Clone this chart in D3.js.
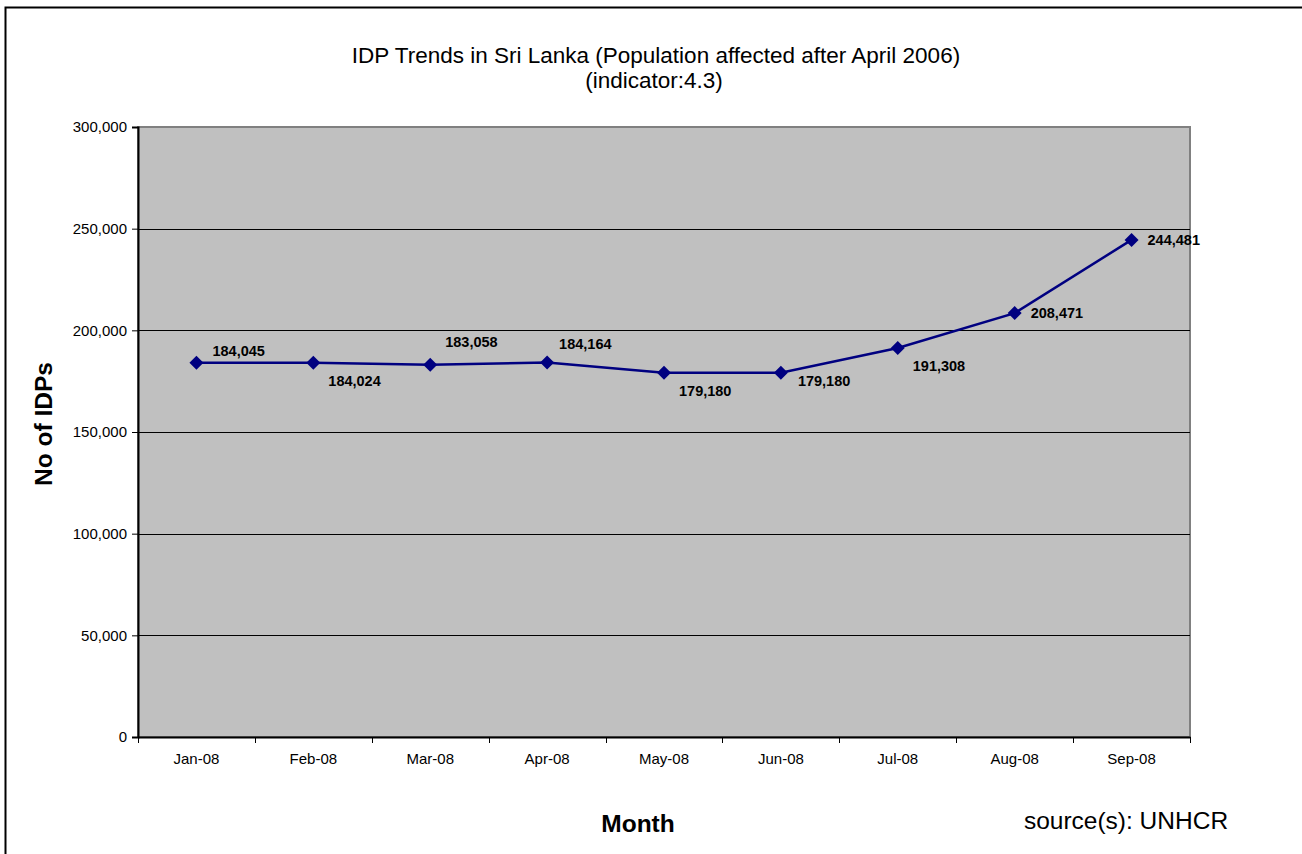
<!DOCTYPE html>
<html>
<head>
<meta charset="utf-8">
<script src="https://cdn.jsdelivr.net/npm/d3@7"></script>
<style>
  body { margin: 0; background: #fff; }
  text { font-family: "Liberation Sans", Arial, sans-serif; }
</style>
</head>
<body>
<svg id="chart" width="1302" height="854"></svg>
<script>
// data
const months = ["Jan-08", "Feb-08", "Mar-08", "Apr-08", "May-08", "Jun-08", "Jul-08", "Aug-08", "Sep-08"];
const idps = [184045, 184024, 183058, 184164, 179180, 179180, 191308, 208471, 244481];
const yTicks = [0, 50000, 100000, 150000, 200000, 250000, 300000];
// label placement: which side of the marker each value sits
const labelPos = ["above", "below", "aboveHigh", "aboveMid", "below", "belowRight", "below", "right", "right"];

const svg = d3.select('#chart');
const fontFam = '"Liberation Sans", Arial, sans-serif';

// outer chart border (runs off the right and bottom)
svg.append('rect')
  .attr('x', 5.5).attr('y', 7.5)
  .attr('width', 1310).attr('height', 870)
  .attr('fill', 'none')
  .attr('stroke', '#000')
  .attr('stroke-width', 2);

const plot = { left: 138, top: 127, right: 1190, bottom: 737 };

var x = d3.scaleBand()
  .domain(months)
  .range([plot.left, plot.right]);

var y = d3.scaleLinear()
  .domain([0, 300000])
  .range([plot.bottom, plot.top]);

// plot background
svg.append('rect')
  .attr('x', plot.left).attr('y', plot.top)
  .attr('width', plot.right - plot.left)
  .attr('height', plot.bottom - plot.top)
  .attr('fill', '#c0c0c0')
  .attr('stroke', '#808080')
  .attr('stroke-width', 2);

// gridlines
svg.selectAll('.grid')
  .data(yTicks.filter(d => d > 0 && d < 300000))
  .enter().append('line')
  .attr('x1', plot.left).attr('x2', plot.right)
  .attr('y1', d => Math.round(y(d)) + 0.5)
  .attr('y2', d => Math.round(y(d)) + 0.5)
  .attr('stroke', '#000')
  .attr('stroke-width', 1);

// y axis
const yAxis = svg.append('g')
  .attr('transform', `translate(${plot.left},0)`)
  .call(d3.axisLeft(y).tickValues(yTicks).tickFormat(d3.format(',')).tickSize(6).tickPadding(5));
yAxis.select('.domain').attr('stroke', '#000').attr('stroke-width', 2);
yAxis.selectAll('.tick line').attr('stroke', '#000');
yAxis.selectAll('text').attr('font-size', 15).attr('fill', '#000').attr('font-family', fontFam);

// x axis, ticks sit between categories
const xAxis = svg.append('g')
  .attr('transform', `translate(0,${plot.bottom})`)
  .call(d3.axisBottom(x).tickSize(0).tickPadding(16));
xAxis.select('.domain').attr('stroke', '#000').attr('stroke-width', 2);
xAxis.selectAll('text').attr('font-size', 15).attr('fill', '#000').attr('font-family', fontFam);

svg.append('g').selectAll('line')
  .data(d3.range(months.length + 1))
  .enter().append('line')
  .attr('x1', i => Math.round(plot.left + i * x.step()) + 0.5)
  .attr('x2', i => Math.round(plot.left + i * x.step()) + 0.5)
  .attr('y1', plot.bottom)
  .attr('y2', plot.bottom + 6)
  .attr('stroke', '#000');

// series line
const cx = d => x(d.m) + x.bandwidth() / 2;
const pts = months.map((m, i) => ({ m: m, v: idps[i], pos: labelPos[i] }));

svg.append('path')
  .datum(pts)
  .attr('fill', 'none')
  .attr('stroke', '#000080')
  .attr('stroke-width', 2.5)
  .attr('d', d3.line().x(cx).y(d => y(d.v)));

// diamond markers
svg.selectAll('.marker')
  .data(pts)
  .enter().append('path')
  .attr('class', 'marker')
  .attr('transform', d => `translate(${cx(d)},${y(d.v)})`)
  .attr('d', 'M0,-7L7,0L0,7L-7,0Z')
  .attr('fill', '#000080');

// value labels
const offsets = {
  above: [16, -7],
  aboveHigh: [15, -18],
  aboveMid: [12, -14],
  below: [15, 23],
  belowRight: [17, 13],
  right: [16, 5]
};
svg.selectAll('.vlabel')
  .data(pts)
  .enter().append('text')
  .attr('x', d => cx(d) + offsets[d.pos][0])
  .attr('y', d => y(d.v) + offsets[d.pos][1])
  .attr('font-size', 14.5)
  .attr('font-weight', 'bold')
  .text(d => d3.format(',')(d.v));

// titles
svg.append('text')
  .attr('x', 656).attr('y', 63)
  .attr('text-anchor', 'middle')
  .attr('font-size', 22.5)
  .text('IDP Trends in Sri Lanka (Population affected after April 2006)');
svg.append('text')
  .attr('x', 654).attr('y', 88)
  .attr('text-anchor', 'middle')
  .attr('font-size', 22.5)
  .text('(indicator:4.3)');

svg.append('text')
  .attr('transform', 'translate(52,424) rotate(-90)')
  .attr('text-anchor', 'middle')
  .attr('font-size', 24.5)
  .attr('font-weight', 'bold')
  .text('No of IDPs');

svg.append('text')
  .attr('x', 638).attr('y', 832)
  .attr('text-anchor', 'middle')
  .attr('font-size', 24.5)
  .attr('font-weight', 'bold')
  .text('Month');

svg.append('text')
  .attr('x', 1126).attr('y', 829)
  .attr('text-anchor', 'middle')
  .attr('font-size', 24.5)
  .text('source(s): UNHCR');
</script>
</body>
</html>
